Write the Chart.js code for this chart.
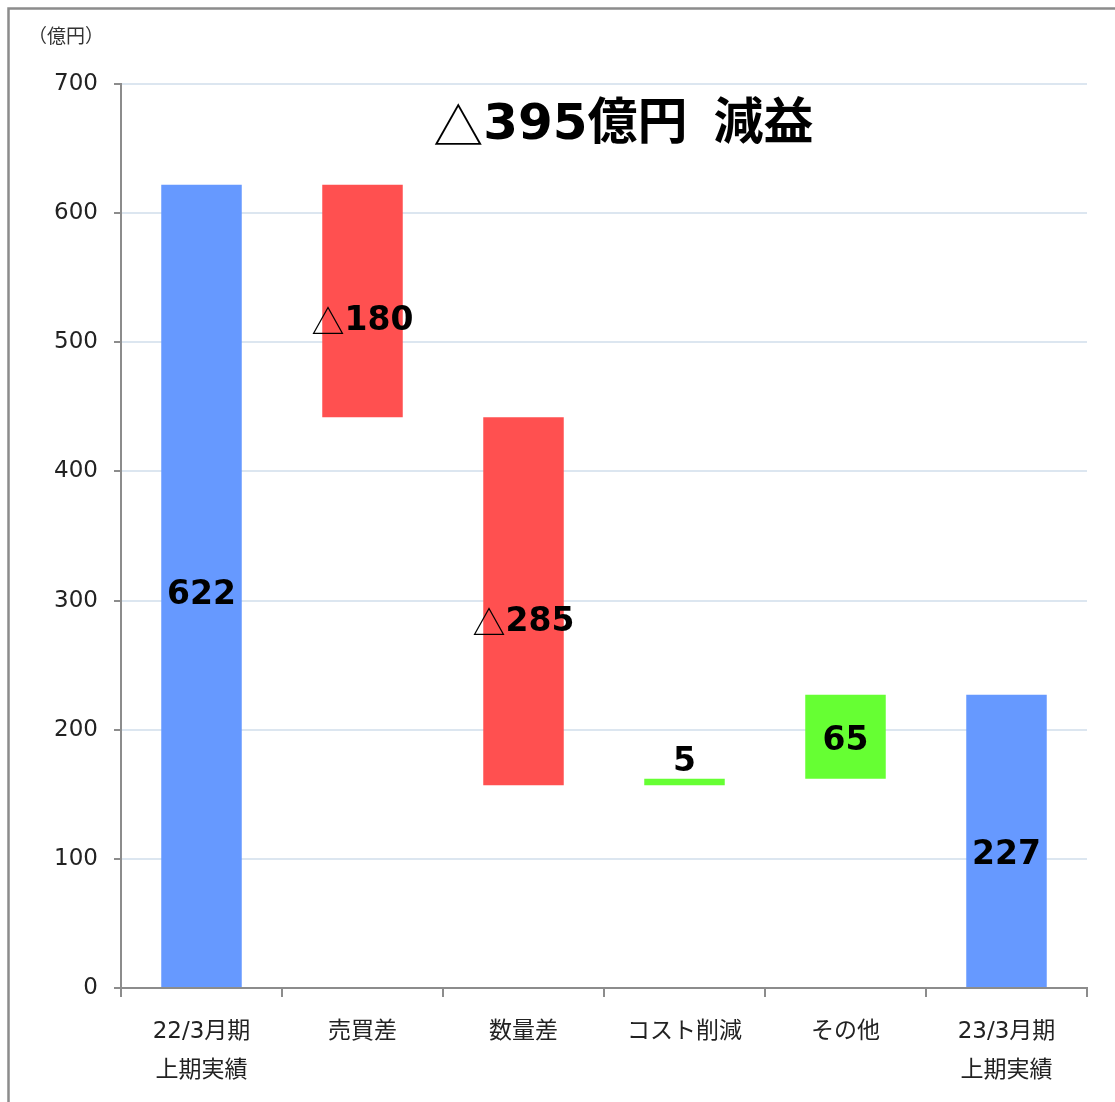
<!DOCTYPE html>
<html><head><meta charset="utf-8">
<script src="https://cdn.jsdelivr.net/npm/chart.js@4"></script>
<style>html,body{margin:0;padding:0;background:#fff;overflow:hidden}#wrap{width:1115px;height:1102px;position:relative}</style>
</head><body><div id="wrap"><canvas id="c" width="1115" height="1102"></canvas></div>
<script>
// ---- data ----
const categories = [['22/3月期','上期実績'], '売買差', '数量差', 'コスト削減', 'その他', ['23/3月期','上期実績']];
const startValue = 622;
const changes = [-180, -285, 5, 65];
const endValue = 227;
const yTicks = [0, 100, 200, 300, 400, 500, 600, 700];
const unitLabel = '（億円）';
const titleMain = '△395億円';
const titleSub = '減益';

// ---- styling ----
const FONT = '"DejaVu Sans","Noto Sans CJK JP",sans-serif';
const CJK = '"Noto Sans CJK JP","DejaVu Sans",sans-serif';
const BLUE = '#6699ff', RED = '#ff5050', GREEN = '#66ff33';
const AXIS = '#8c8c8c', GRID = '#dce6f0';
// small vertical nudges (px) of the value labels, as in the original slide
const labelNudge = [10, 20, 21, 0, 5, 14];

// build floating ranges from values
const ranges = [[0, startValue]];
const colors = [BLUE];
const labels = [String(startValue)];
let run = startValue;
for (const c of changes) {
  const next = run + c;
  ranges.push([Math.min(run, next), Math.max(run, next)]);
  colors.push(c < 0 ? RED : GREEN);
  labels.push(c < 0 ? '△' + Math.abs(c) : String(c));
  run = next;
}
ranges.push([0, endValue]);
colors.push(BLUE);
labels.push(String(endValue));

function drawParts(ctx, parts, cx, cy) {
  let total = 0;
  const w = parts.map(p => { ctx.font = p.font; const m = (p.w != null ? p.w : ctx.measureText(p.t).width); total += m; return m; });
  let x = cx - total / 2;
  ctx.textAlign = 'left';
  ctx.textBaseline = 'middle';
  ctx.fillStyle = '#000';
  parts.forEach((p, i) => { ctx.font = p.font; if (p.t) ctx.fillText(p.t, x, cy); x += w[i]; });
}
function splitTri(text, size) {
  const parts = [];
  if (text.startsWith('△')) {
    parts.push({ t: '△', font: `400 ${size}px ${CJK}` });
    text = text.slice(1);
  }
  parts.push({ t: text, font: `bold ${size}px ${FONT}` });
  return parts;
}

const decor = {
  id: 'decor',
  beforeDraw(chart) {
    const ctx = chart.ctx;
    ctx.save();
    ctx.fillStyle = '#fff';
    ctx.fillRect(0, 0, chart.width, chart.height);
    ctx.strokeStyle = AXIS;
    ctx.lineWidth = 2.5;
    ctx.strokeRect(8.5, 8.5, chart.width + 20, chart.height + 20);
    ctx.font = `19px ${CJK}`;
    ctx.fillStyle = '#333';
    ctx.textAlign = 'center';
    ctx.textBaseline = 'middle';
    ctx.fillText(unitLabel, 66, 36);
    ctx.restore();
  },
  afterDraw(chart) {
    const ctx = chart.ctx;
    const ca = chart.chartArea;
    ctx.save();
    const tparts = splitTri(titleMain, 50);
    tparts.push({ t: '', font: `bold 50px ${FONT}`, w: 26 });
    tparts.push({ t: titleSub, font: `bold 50px ${FONT}` });
    drawParts(ctx, tparts, ca.left + ca.width * 0.52, ca.top + 42);
    const meta = chart.getDatasetMeta(0);
    meta.data.forEach((bar, i) => {
      const top = Math.min(bar.y, bar.base), bot = Math.max(bar.y, bar.base);
      let cy;
      if (bot - top < 30) cy = top - 16;
      else cy = (top + bot) / 2 + labelNudge[i];
      drawParts(ctx, splitTri(labels[i], 33), bar.x, cy);
    });
    ctx.restore();
  }
};

new Chart(document.getElementById('c'), {
  type: 'bar',
  data: {
    labels: categories,
    datasets: [{
      data: ranges,
      backgroundColor: colors,
      borderWidth: 0,
      categoryPercentage: 1.0,
      barPercentage: 0.5
    }]
  },
  options: {
    responsive: false,
    animation: false,
    devicePixelRatio: 1,
    layout: { padding: { top: 84, right: 28, left: 0, bottom: 0 } },
    plugins: { legend: { display: false }, tooltip: { enabled: false } },
    scales: {
      x: {
        offset: true,
        grid: { offset: true, drawOnChartArea: false, color: AXIS, tickColor: AXIS, tickLength: 9, lineWidth: 2 },
        border: { color: AXIS, width: 2 },
        ticks: { color: '#222', font: { size: 23, family: FONT, lineHeight: 1.7 }, padding: 15, maxRotation: 0, autoSkip: false },
        afterFit: s => { s.height = 114; }
      },
      y: {
        min: yTicks[0], max: yTicks[yTicks.length - 1],
        afterBuildTicks: s => { s.ticks = yTicks.map(v => ({ value: v })); },
        grid: { color: GRID, lineWidth: 2, tickColor: AXIS, tickLength: 7 },
        border: { color: AXIS, width: 2 },
        ticks: { color: '#222', font: { size: 23, family: FONT }, padding: 16 },
        afterFit: s => { s.width = 121; }
      }
    }
  },
  plugins: [decor]
});
</script></body></html>
